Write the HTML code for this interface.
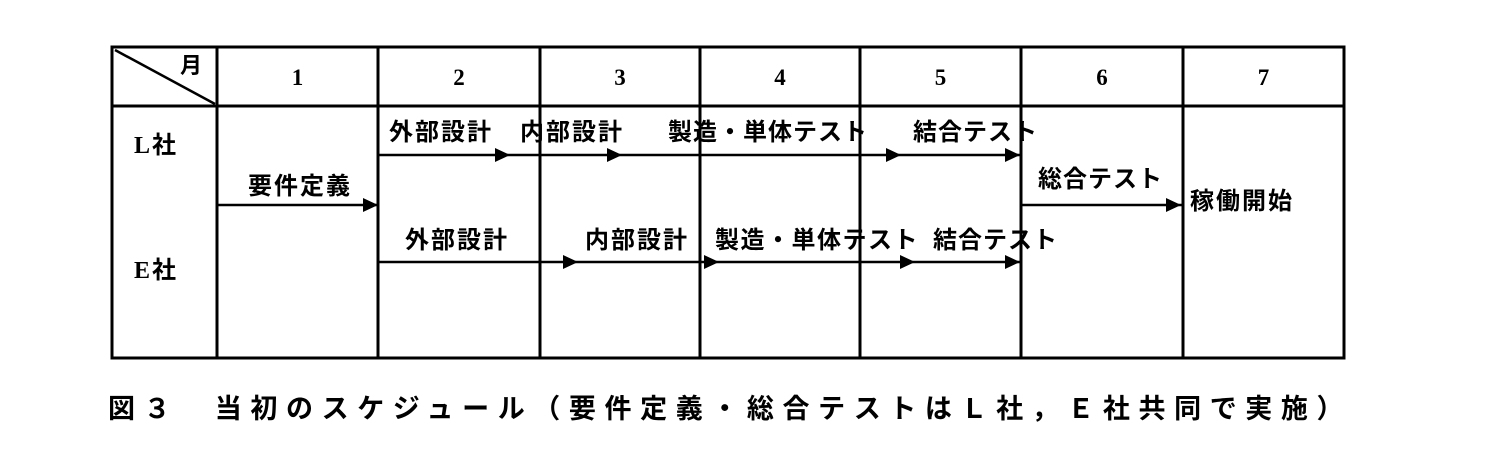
<!DOCTYPE html>
<html><head><meta charset="utf-8"><style>
body{margin:0;background:#fff;width:1504px;height:452px;overflow:hidden;position:relative}
.t{position:absolute;font-family:"Liberation Serif","Noto Sans CJK JP",sans-serif;font-weight:bold;font-size:24px;letter-spacing:2px;line-height:1;white-space:nowrap;color:#000}
.n{font-family:"Liberation Serif",serif;font-size:23px;letter-spacing:0}
.c{font-family:"Liberation Sans","Noto Sans CJK JP",sans-serif;font-weight:bold;font-size:27px;letter-spacing:8.6px}
</style></head><body>
<svg width="1504" height="452" style="position:absolute;left:0;top:0">
<g stroke="#000" stroke-width="3" fill="none">
<rect x="112" y="47" width="1232" height="311"/>
<line x1="112" y1="106" x2="1344" y2="106"/>
<line x1="217" y1="47" x2="217" y2="358"/>
<line x1="378" y1="47" x2="378" y2="358"/>
<line x1="540" y1="47" x2="540" y2="358"/>
<line x1="700" y1="47" x2="700" y2="358"/>
<line x1="860" y1="47" x2="860" y2="358"/>
<line x1="1021" y1="47" x2="1021" y2="358"/>
<line x1="1183" y1="47" x2="1183" y2="358"/>
<line x1="115" y1="50" x2="215" y2="104" stroke-width="2.5"/>
<line x1="378" y1="155" x2="1021" y2="155" stroke-width="2.5"/>
<line x1="378" y1="262" x2="1021" y2="262" stroke-width="2.5"/>
<line x1="217" y1="205" x2="378" y2="205" stroke-width="2.5"/>
<line x1="1021" y1="205" x2="1183" y2="205" stroke-width="2.5"/>
</g>
<g fill="#000">
<polygon points="495,148 510,155 495,162"/>
<polygon points="607,148 622,155 607,162"/>
<polygon points="886,148 901,155 886,162"/>
<polygon points="1005,148 1020,155 1005,162"/>
<polygon points="563,255 578,262 563,269"/>
<polygon points="704,255 719,262 704,269"/>
<polygon points="900,255 915,262 900,269"/>
<polygon points="1005,255 1020,262 1005,269"/>
<polygon points="363,198 378,205 363,212"/>
<polygon points="1166,198 1181,205 1166,212"/>
</g>
</svg>
<div class="t" style="left:180px;top:55px;font-size:22px">月</div>
<div class="t n" style="left:217px;top:66px;width:161px;text-align:center">1</div>
<div class="t n" style="left:378px;top:66px;width:162px;text-align:center">2</div>
<div class="t n" style="left:540px;top:66px;width:160px;text-align:center">3</div>
<div class="t n" style="left:700px;top:66px;width:160px;text-align:center">4</div>
<div class="t n" style="left:860px;top:66px;width:161px;text-align:center">5</div>
<div class="t n" style="left:1021px;top:66px;width:162px;text-align:center">6</div>
<div class="t n" style="left:1183px;top:66px;width:161px;text-align:center">7</div>
<div class="t" style="left:134px;top:134px">L社</div>
<div class="t" style="left:134px;top:259px">E社</div>
<div class="t" style="left:389px;top:121px">外部設計</div>
<div class="t" style="left:520px;top:121px">内部設計</div>
<div class="t" style="left:668px;top:121px;letter-spacing:1px">製造・単体テスト</div>
<div class="t" style="left:913px;top:121px;letter-spacing:1px">結合テスト</div>
<div class="t" style="left:248px;top:175px">要件定義</div>
<div class="t" style="left:405px;top:229px">外部設計</div>
<div class="t" style="left:585px;top:229px">内部設計</div>
<div class="t" style="left:715px;top:229px;letter-spacing:1.5px">製造・単体テスト</div>
<div class="t" style="left:933px;top:229px;letter-spacing:1px">結合テスト</div>
<div class="t" style="left:1038px;top:168px;letter-spacing:1px">総合テスト</div>
<div class="t" style="left:1190px;top:190px">稼働開始</div>
<div class="t c" style="left:108px;top:396px">図３　当初のスケジュール（要件定義・総合テストはＬ社，Ｅ社共同で実施）</div>
</body></html>
